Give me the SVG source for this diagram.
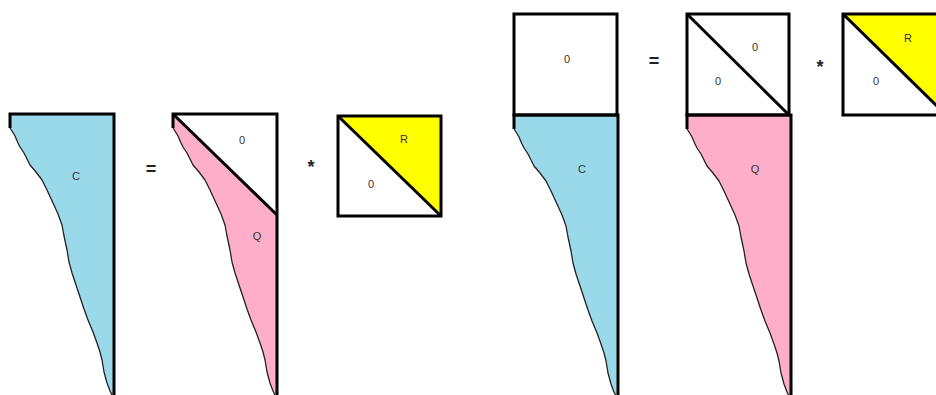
<svg xmlns="http://www.w3.org/2000/svg" xmlns:xlink="http://www.w3.org/1999/xlink" width="936" height="395" viewBox="0 0 936 395">
<style>
.thick{fill:none;stroke:#000;stroke-width:3;stroke-linejoin:miter}
.curve{fill:none;stroke:#222;stroke-width:1.3;stroke-linejoin:round}
.blue{fill:#99d9ea;stroke:none}
.pink{fill:#ffaec9;stroke:none}
.yellow{fill:#ffff00;stroke:none}
.white{fill:#fff;stroke:none}
.lbl{font-family:"Liberation Sans",Arial,sans-serif;font-size:11px;fill:#333;text-anchor:middle}
.op{font-family:"Liberation Sans",Arial,sans-serif;font-size:18px;font-weight:bold;fill:#222;text-anchor:middle}
</style>
<defs>
<path id="cshape" d="M0,0 L104,0 L104,285 L100,277 L97,269 L94,258 L92,246 L90,238 L87,229 L83,218 L78,206 L74,195 L70,183 L66,171 L62,159 L59,148 L57,136 L54,122 L52,111 L48,100 L43,89 L37,76 L32,66 L26,58 L20,51 L14,39 L10,33 L8,29 L5,22 L2,17 L0,14 Z"/>
<path id="qshape" d="M0,0 L104,101 L104,285 L100,277 L97,269 L94,258 L92,246 L90,238 L87,229 L83,218 L78,206 L74,195 L70,183 L66,171 L62,159 L59,148 L57,136 L54,122 L52,111 L48,100 L43,89 L37,76 L32,66 L26,58 L20,51 L14,39 L10,33 L8,29 L5,22 L2,17 L0,14 Z"/>
<path id="curve" d="M0,14 L2,17 L5,22 L8,29 L10,33 L14,39 L20,51 L26,58 L32,66 L37,76 L43,89 L48,100 L52,111 L54,122 L57,136 L59,148 L62,159 L66,171 L70,183 L74,195 L78,206 L83,218 L87,229 L90,238 L92,246 L94,258 L97,269 L100,277 L104,285"/>
<path id="edges" d="M0,14 L0,0 L104,0 L104,290"/>
</defs>

<g id="left-C" transform="translate(10,114)">
<use xlink:href="#cshape" class="blue"/>
<use xlink:href="#curve" class="curve"/>
<use xlink:href="#edges" class="thick"/>
<text class="lbl" x="66" y="66">C</text>
</g>

<g id="left-eq"><text class="op" x="151" y="175">=</text></g>

<g id="left-Q" transform="translate(173,114)">
<use xlink:href="#qshape" class="pink"/>
<path class="white" d="M0,0 L104,0 L104,101 Z"/>
<use xlink:href="#curve" class="curve"/>
<use xlink:href="#edges" class="thick"/>
<path class="thick" d="M0,0 L104,101"/>
<text class="lbl" x="69" y="30">0</text>
<text class="lbl" x="84" y="126">Q</text>
</g>

<g id="left-mul"><text class="op" x="311" y="173">*</text></g>

<g id="left-R" transform="translate(338,116)">
<rect class="white" x="0" y="0" width="103" height="100"/>
<path class="yellow" d="M0,0 L103,0 L103,100 Z"/>
<rect class="thick" x="0" y="0" width="103" height="100"/>
<path class="thick" d="M0,0 L103,100"/>
<text class="lbl" x="66" y="27">R</text>
<text class="lbl" x="33" y="72">0</text>
</g>

<g id="right-C">
<g transform="translate(514,115)">
<use xlink:href="#cshape" class="blue"/>
<use xlink:href="#curve" class="curve"/>
<use xlink:href="#edges" class="thick"/>
</g>
<rect class="thick" x="514" y="14" width="103" height="101"/>
<text class="lbl" x="567" y="63">0</text>
<text class="lbl" x="582" y="173">C</text>
</g>

<g id="right-eq"><text class="op" x="654" y="67">=</text></g>

<g id="right-Q">
<g transform="translate(687,115)">
<use xlink:href="#cshape" class="pink"/>
<use xlink:href="#curve" class="curve"/>
<use xlink:href="#edges" class="thick"/>
</g>
<rect class="thick" x="687" y="14" width="102" height="101"/>
<path class="thick" d="M687,14 L789,115"/>
<text class="lbl" x="755" y="51">0</text>
<text class="lbl" x="718" y="85">0</text>
<text class="lbl" x="755" y="173">Q</text>
</g>

<g id="right-mul"><text class="op" x="820" y="73">*</text></g>

<g id="right-R" transform="translate(843,14)">
<rect class="white" x="0" y="0" width="103" height="101"/>
<path class="yellow" d="M0,0 L103,0 L103,101 Z"/>
<rect class="thick" x="0" y="0" width="103" height="101"/>
<path class="thick" d="M0,0 L103,101"/>
<text class="lbl" x="65" y="28">R</text>
<text class="lbl" x="33" y="71">0</text>
</g>
</svg>
